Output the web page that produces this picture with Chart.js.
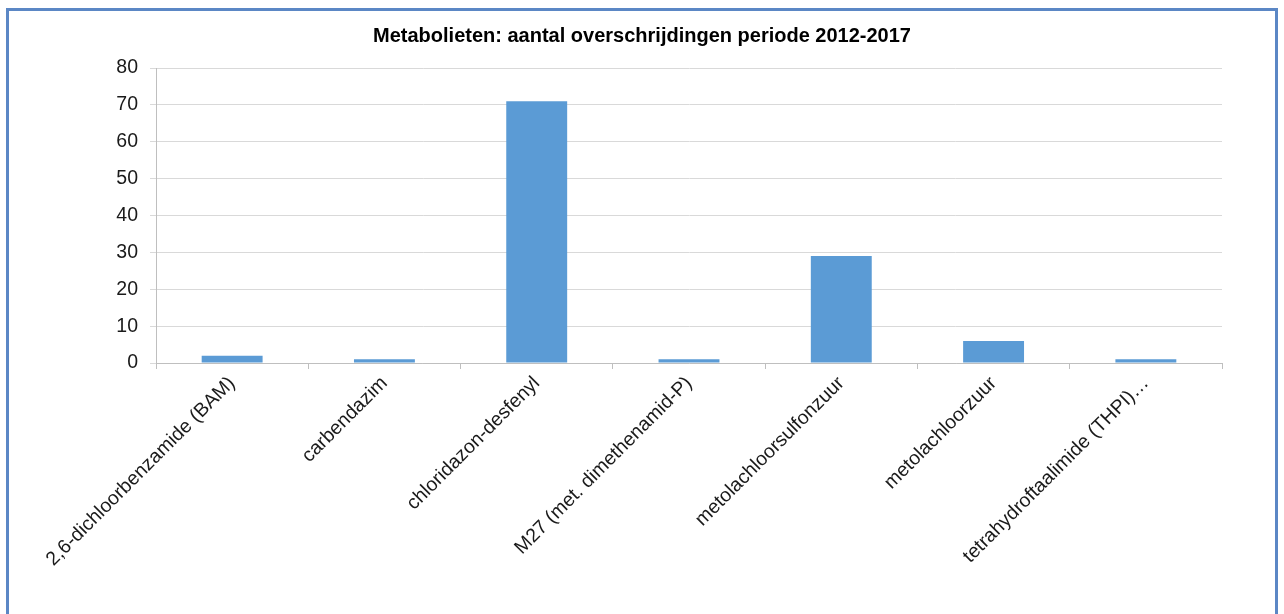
<!DOCTYPE html>
<html>
<head>
<meta charset="utf-8">
<script src="https://cdn.jsdelivr.net/npm/chart.js@4/dist/chart.umd.min.js"></script>
<style>
  body { margin: 0; background: #fff; }
  #frame { position: absolute; left: 6px; top: 8px; width: 1266px; height: 620px; border: 3px solid #5b87c5; }
  #wrap { position: absolute; left: 0; top: 0; width: 1284px; height: 614px; }
</style>
</head>
<body>
<div id="frame"></div>
<div id="wrap"><canvas id="chart1"></canvas></div>
<script>
// Data
const categories = ['2,6-dichloorbenzamide (BAM)', 'carbendazim', 'chloridazon-desfenyl', 'M27 (met. dimethenamid-P)', 'metolachloorsulfonzuur', 'metolachloorzuur', 'tetrahydroftaalimide (THPI)…'];
const overschrijdingen = [2, 1, 71, 1, 29, 6, 1];
const yTicks = [0, 10, 20, 30, 40, 50, 60, 70, 80];

const font = 'Liberation Sans, Arial, sans-serif';

// center title on the whole canvas, not on the padded area
const centerTitle = {
    id: 'centerTitle',
    afterLayout: (chart) => {
        if (chart.titleBlock) {
            chart.titleBlock.left = 0;
            chart.titleBlock.right = chart.width;
            chart.titleBlock.width = chart.width;
        }
    }
};

const createChart = (ctx) => {
    new Chart(ctx, {
        type: 'bar',
        data: {
            labels: categories,
            datasets: [{
                label: 'Aantal overschrijdingen',
                data: overschrijdingen,
                backgroundColor: '#5b9bd5',
                barPercentage: 0.4,
                categoryPercentage: 1
            }]
        },
        options: {
            responsive: true,
            maintainAspectRatio: false,
            animation: false,
            layout: { padding: { left: 0, right: 62, top: 0, bottom: 0 } },
            scales: {
                x: {
                    grid: { display: true, drawOnChartArea: false, color: '#bfbfbf', tickLength: 6, offset: true },
                    border: { color: '#bfbfbf' },
                    ticks: { autoSkip: false, maxRotation: 45, minRotation: 45, padding: 3, color: '#1a1a1a', font: { family: font, size: 19.5 } },
                    afterFit: (scale) => { scale.height = 251; }
                },
                y: {
                    min: 0,
                    max: 80,
                    afterBuildTicks: (scale) => { scale.ticks = yTicks.map(v => ({ value: v })); },
                    grid: { color: '#d9d9d9', tickLength: 6 },
                    border: { color: '#bfbfbf' },
                    ticks: { padding: 12, color: '#1a1a1a', font: { family: font, size: 19.5 } },
                    afterFit: (scale) => { scale.width = 156; }
                }
            },
            plugins: {
                legend: { display: false },
                tooltip: { enabled: false },
                title: {
                    display: true,
                    text: 'Metabolieten: aantal overschrijdingen periode 2012-2017',
                    color: '#000',
                    font: { family: font, size: 20, weight: 'bold' },
                    padding: { top: 24, bottom: 20 }
                }
            }
        },
        plugins: [centerTitle]
    });
};

window.onload = () => {
    const ctx1 = document.getElementById('chart1').getContext('2d');
    createChart(ctx1);
};
</script>
</body>
</html>
